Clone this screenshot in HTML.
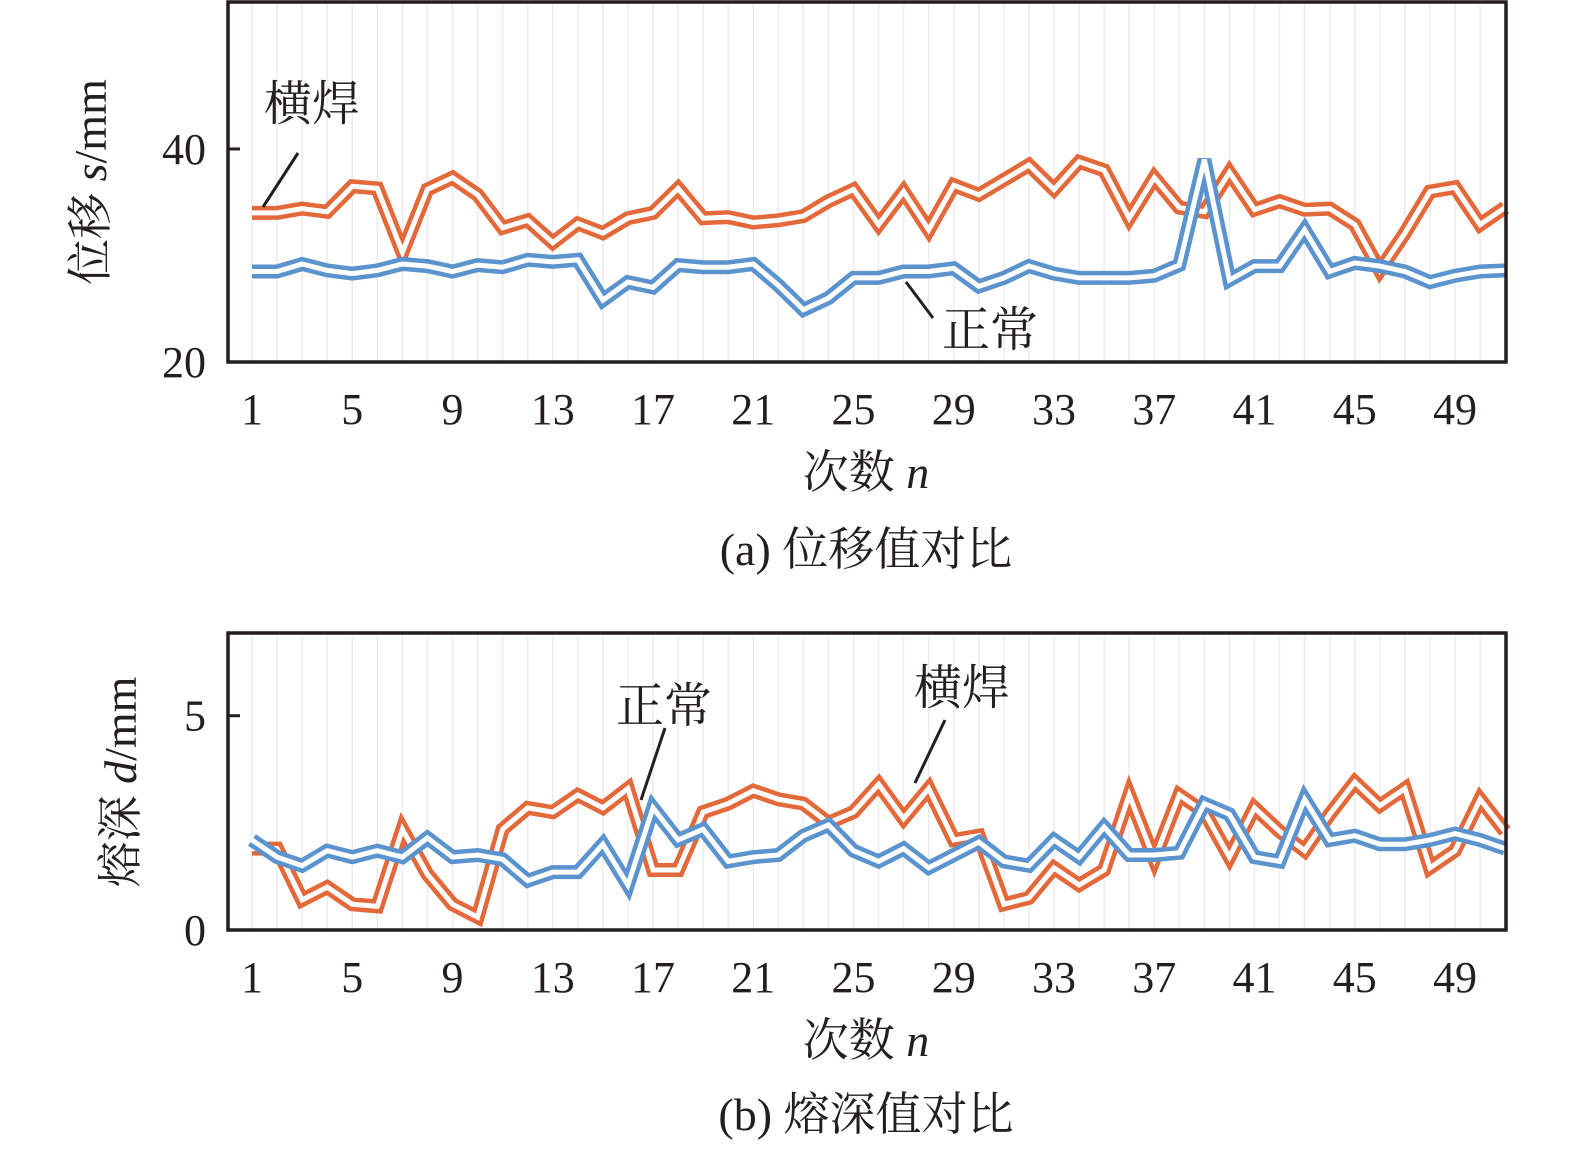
<!DOCTYPE html>
<html><head><meta charset="utf-8">
<style>
html,body{margin:0;padding:0;background:#fff;}
svg{display:block;font-family:"Liberation Serif","Noto Serif CJK SC","Noto Sans CJK SC",serif;}
</style></head>
<body>
<svg id="chart" width="1575" height="1153" viewBox="0 0 1575 1153" xmlns="http://www.w3.org/2000/svg"></svg>
<script>
const nValues = Array.from({length:51},(_,i)=>i+1);
const xTickLabels = [1,5,9,13,17,21,25,29,33,37,41,45,49];
const dispWeld = [34.0,34.0,34.4,34.1,36.5,36.3,30.3,36.2,37.3,35.7,32.6,33.3,31.2,33.0,32.1,33.5,34.0,36.3,33.5,33.6,33.1,33.3,33.7,35.1,36.2,32.9,36.0,32.4,36.6,35.7,37.1,38.5,36.2,38.8,38.0,33.5,37.3,34.5,34.1,37.8,34.3,35.1,34.3,34.4,32.9,28.6,32.1,36.0,36.4,32.9,34.5];
const dispNormal = [28.5,28.5,29.2,28.6,28.3,28.6,29.2,29.0,28.5,29.1,28.9,29.6,29.4,29.6,25.8,27.5,27.0,29.1,28.9,28.9,29.2,27.2,24.9,26.0,27.9,27.9,28.5,28.5,28.8,27.1,27.9,29.0,28.3,27.9,27.9,27.9,28.1,29.1,39.0,27.7,29.0,29.0,32.4,28.5,29.3,29.0,28.5,27.5,28.1,28.5,28.6];
const dispTicks = [20,40];
const depthWeld = [1.9,1.9,0.7,1.0,0.6,0.55,2.35,1.3,0.6,0.3,2.35,2.85,2.75,3.15,2.85,3.3,1.4,1.4,2.75,2.95,3.25,3.05,2.95,2.5,2.75,3.4,2.6,3.3,2.1,2.2,0.6,0.75,1.45,1.05,1.4,3.15,1.65,3.15,2.75,1.7,2.85,2.3,1.85,2.7,3.45,2.9,3.3,1.45,1.85,3.05,2.3];
const depthNormal = [2.1,1.7,1.5,1.85,1.7,1.85,1.7,2.15,1.7,1.75,1.65,1.15,1.35,1.35,2.0,1.05,2.85,2.1,2.35,1.6,1.7,1.75,2.2,2.45,1.85,1.6,1.9,1.45,1.75,2.05,1.6,1.5,2.1,1.7,2.4,1.75,1.75,1.8,2.95,2.7,1.7,1.6,3.05,2.1,2.2,2.0,2.0,2.1,2.25,2.1,1.9];
const depthTicks = [0,5];

const NS="http://www.w3.org/2000/svg";
const svg=document.getElementById('chart');
function el(tag,attrs,parent){const e=document.createElementNS(NS,tag);for(const k in attrs)e.setAttribute(k,attrs[k]);(parent||svg).appendChild(e);return e;}
const X0=228,X1=1506;
function xScale(n){return 252+(n-1)*(1455-252)/48;}

function panel(opt){
  const g=el('g',{});
  
  
  const yScale=v=>opt.yb-(v-opt.min)*(opt.yb-opt.yt)/(opt.max-opt.min);
  // grid
  nValues.forEach(n=>{
    const l=el('line',{x1:xScale(n),x2:xScale(n),y1:opt.yt,y2:opt.yb,stroke:'#ececec','stroke-width':1.5},g);
    
    
  });
  // series
  opt.series.forEach(s=>{
    const pts=s.data.map((v,i)=>xScale(nValues[i]).toFixed(1)+','+yScale(v).toFixed(1)).join(' ');
    const a=el('polyline',{points:pts,fill:'none',stroke:s.color,'stroke-width':14,'stroke-linejoin':'miter','stroke-miterlimit':3},g);
    
    
    const b=el('polyline',{points:pts,fill:'none',stroke:'#fff','stroke-width':5,'stroke-linejoin':'miter','stroke-miterlimit':3},g);
    
    
  });
  // frame
  const r=el('rect',{x:X0,y:opt.yt,width:X1-X0,height:opt.yb-opt.yt,fill:'none',stroke:'#231f20','stroke-width':3.5},g);
  
  
  // y ticks
  opt.ticks.forEach(t=>{
    const y=yScale(t);
    const tk=el('line',{x1:X0,x2:X0+12,y1:y,y2:y,stroke:'#231f20','stroke-width':3},g);
    
    
    const tx=el('text',{x:206,y:y+15,'font-size':44,'text-anchor':'end',fill:'#231f20'},g);
    tx.textContent=t;
    
    
  });
  // x tick labels
  xTickLabels.forEach(t=>{
    const tx=el('text',{x:xScale(t),y:opt.yb+62,'font-size':44,'text-anchor':'middle',fill:'#231f20'},g);
    tx.textContent=t;
    
    
  });
  return g;
}

panel({name:'displacement-panel',yt:2,yb:362,min:20,max:53.8,ticks:dispTicks,
  series:[{name:'displacement-weld-line',color:'#e4693a',data:dispWeld},{name:'displacement-normal-line',color:'#5b93cf',data:dispNormal}]});
panel({name:'depth-panel',yt:633,yb:930,min:0,max:6.93,ticks:depthTicks,
  series:[{name:'depth-weld-line',color:'#e4693a',data:depthWeld},{name:'depth-normal-line',color:'#5b93cf',data:depthNormal}]});
</script>
<svg style="position:absolute;left:0;top:0" width="1575" height="1153">
  <g font-family="Liberation Serif, Noto Serif CJK SC, Noto Sans CJK SC, serif" fill="#231f20">
    <text transform="translate(106,182) rotate(-90)" font-size="46" text-anchor="middle">位移 <tspan font-style="italic">s</tspan>/mm</text>
    <text transform="translate(136,782) rotate(-90)" font-size="46" text-anchor="middle">熔深 <tspan font-style="italic">d</tspan>/mm</text>
    <text x="866" y="488" font-size="46" text-anchor="middle">次数 <tspan font-style="italic">n</tspan></text>
    <text x="866" y="1056" font-size="46" text-anchor="middle">次数 <tspan font-style="italic">n</tspan></text>
    <text x="866" y="565" font-size="46" text-anchor="middle">(a) 位移值对比</text>
    <text x="866" y="1130" font-size="46" text-anchor="middle">(b) 熔深值对比</text>
    <text x="264" y="120" font-size="48">横焊</text>
    <text x="942" y="346" font-size="48">正常</text>
    <text x="616" y="722" font-size="48">正常</text>
    <text x="914" y="704" font-size="48">横焊</text>
  </g>
  <line x1="298" y1="153" x2="263" y2="207" stroke="#231f20" stroke-width="3"/>
  <line x1="906" y1="282" x2="933" y2="318" stroke="#231f20" stroke-width="3"/>
  <line x1="665" y1="728" x2="641" y2="800" stroke="#231f20" stroke-width="3"/>
  <line x1="945" y1="720" x2="915" y2="783" stroke="#231f20" stroke-width="3"/>
</svg>
</body></html>
